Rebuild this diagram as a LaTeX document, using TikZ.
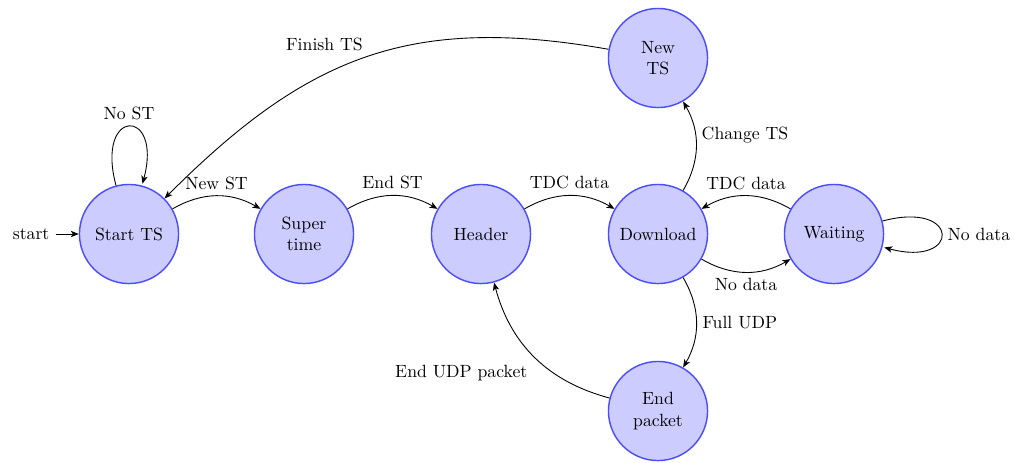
\documentclass[tikz,border=0pt]{standalone}
\usetikzlibrary{automata,arrows.meta,positioning}
\begin{document}
\begin{tikzpicture}[x=0.565pt,y=-0.565pt,
  >={Stealth[length=4.5pt,width=3.6pt,inset=1.2pt]},
  st/.style={state,circle,draw=blue!70,fill=blue!20,line width=0.8pt,minimum size=56pt,inner sep=0pt,align=center,font=\large},
  every edge/.style={draw,->,line width=0.5pt}]
\path[use as bounding box] (0,0) rectangle (1014,462);
\node[st,initial,initial text=start,initial distance=13pt,initial where=left] (s) at (129,234) {\normalsize Start TS};
\node[st] (sup) at (304,234) {\normalsize Super\\[-2pt]\normalsize time};
\node[st] (h) at (481,234) {\normalsize Header};
\node[st] (d) at (658,234) {\normalsize Download};
\node[st] (w) at (834,234) {\normalsize Waiting};
\node[st] (n) at (658,58) {\normalsize New\\[-2pt]\normalsize TS};
\node[st] (e) at (658,411) {\normalsize End\\[-2pt]\normalsize packet};
\path
 (s) edge[loop above] node[above] {No ST} (s)
 (s) edge[bend left] node[above] {New ST} (sup)
 (sup) edge[bend left] node[above] {End ST} (h)
 (h) edge[bend left] node[above] {TDC data} (d)
 (d) edge[bend right] node[right,pos=0.62] {Change TS} (n)
 (n) edge[out=170,in=45,looseness=1.1] node[above left,pos=0.5,xshift=2pt] {Finish TS} (s)
 (w) edge[bend right] node[above] {TDC data} (d)
 (d) edge[bend right] node[below] {No data} (w)
 (w) edge[loop right] node[right] {No data} (w)
 (d) edge[bend left] node[right] {Full UDP} (e)
 (e) edge[out=165,in=-75] node[left,pos=0.45,xshift=-4pt,yshift=-6pt] {End UDP packet} (h);
\end{tikzpicture}
\end{document}
